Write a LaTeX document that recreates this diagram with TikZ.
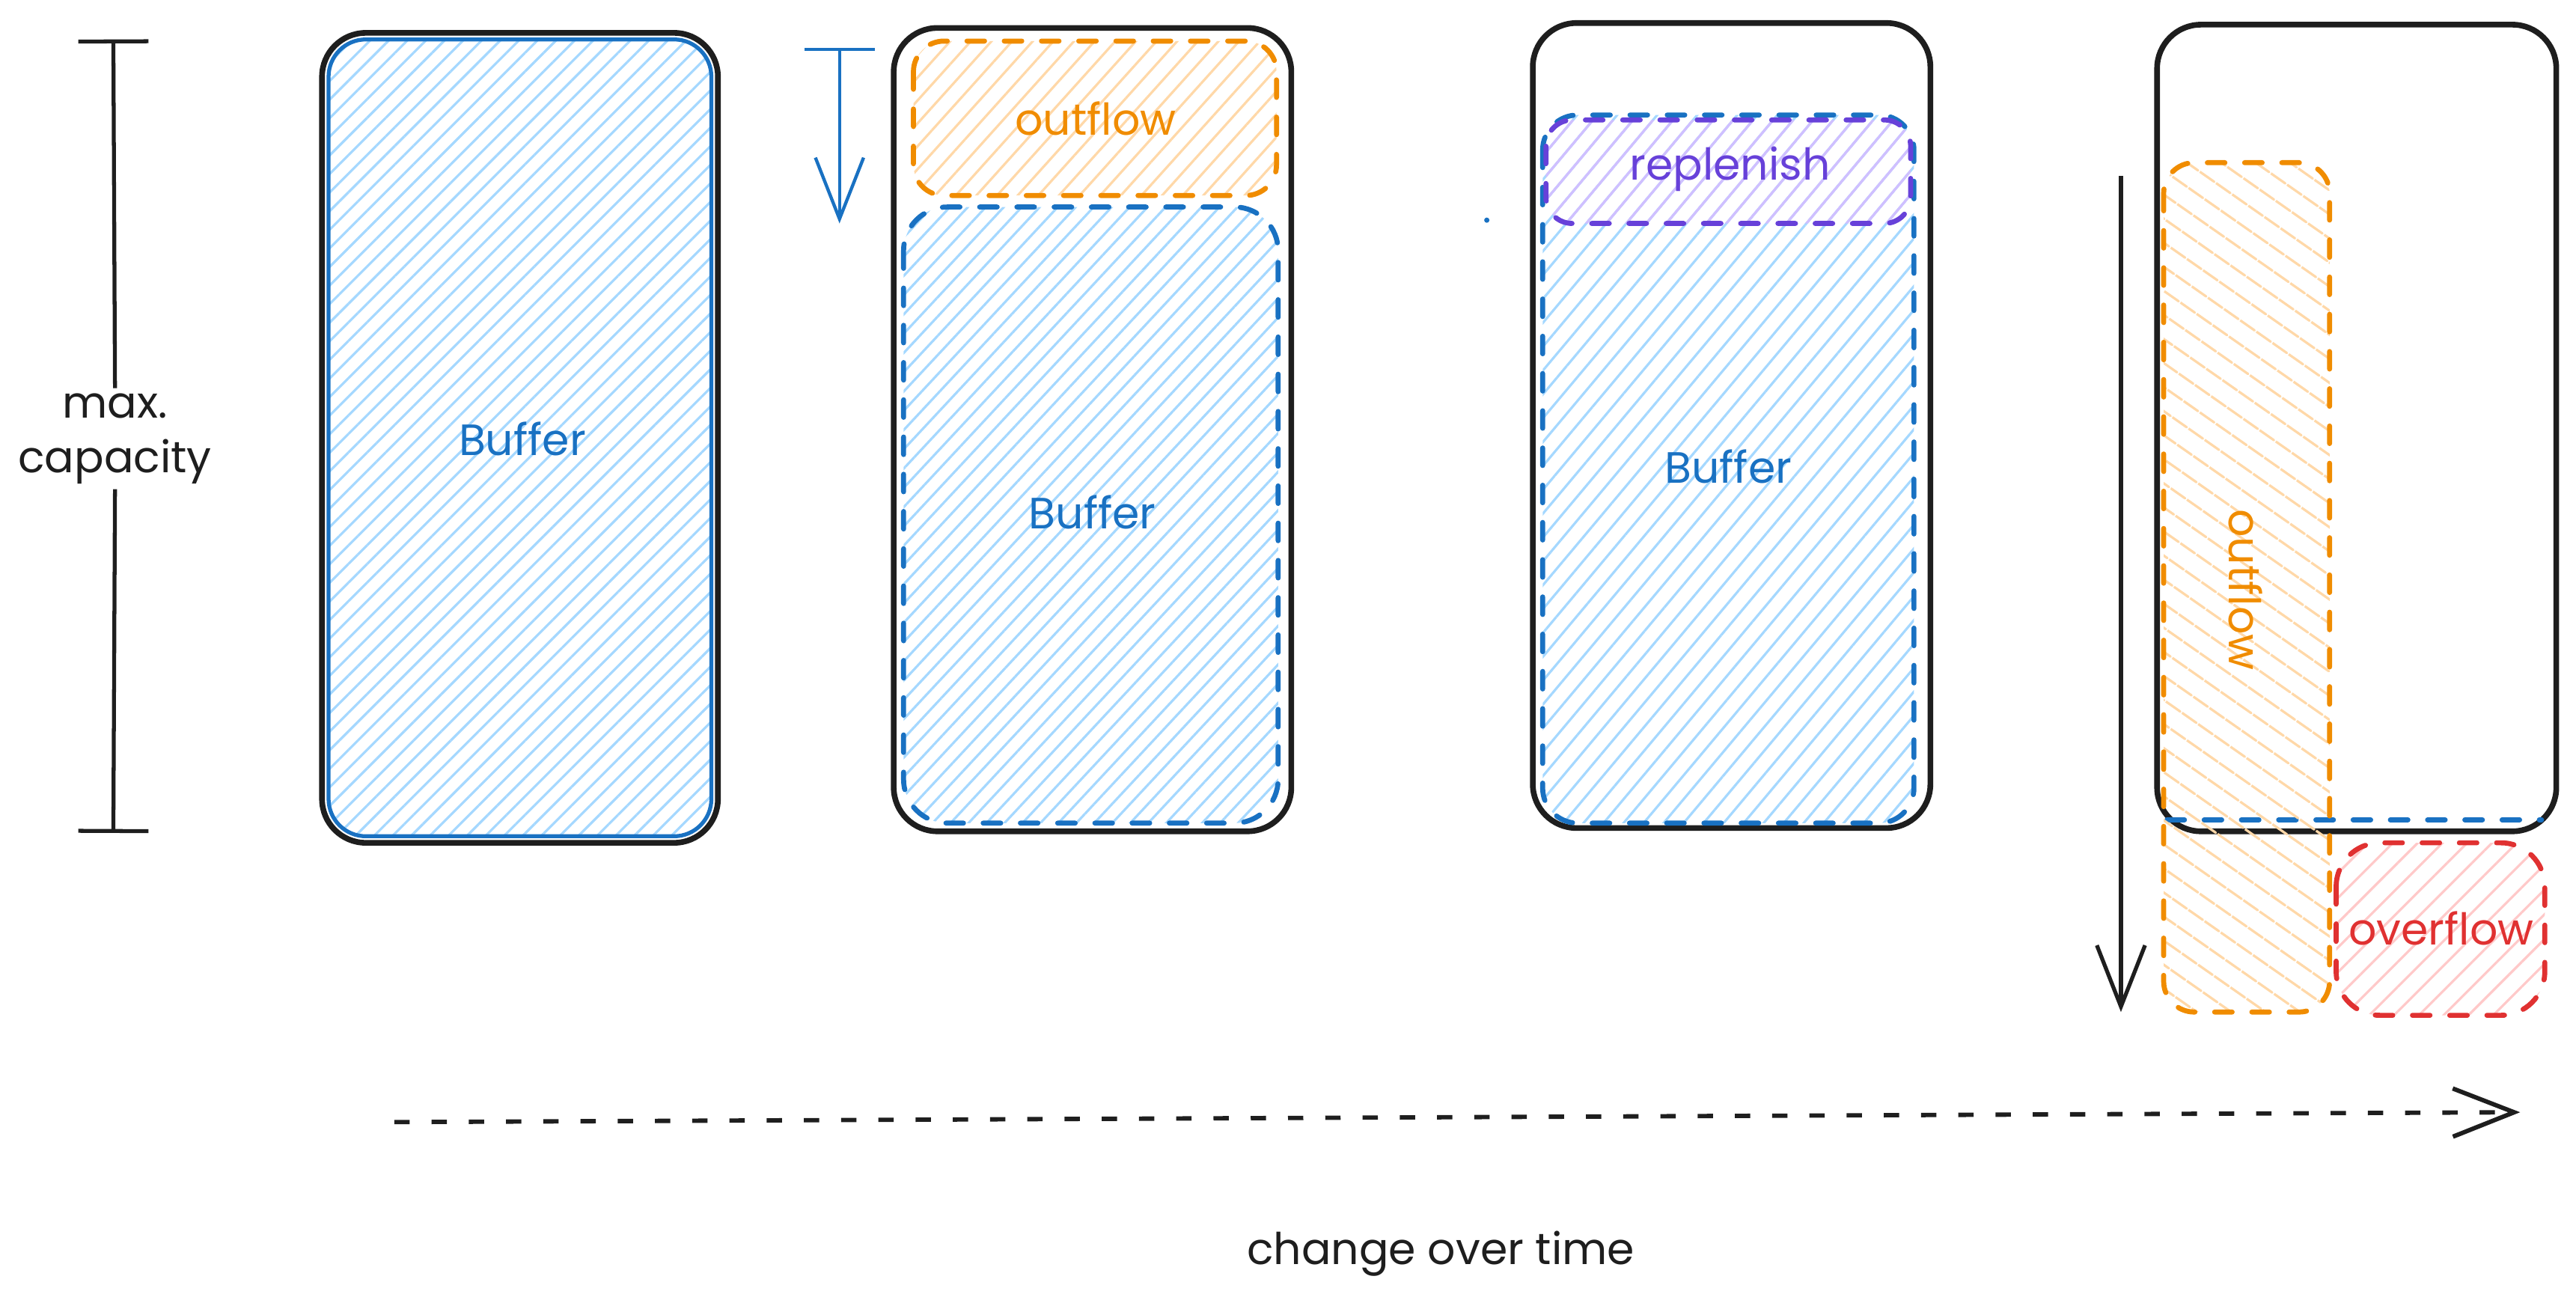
\documentclass[tikz,border=0pt]{standalone}
\usepackage{fontspec}
\setmainfont{Poppins}
\usetikzlibrary{arrows.meta,patterns.meta}

\definecolor{inkblack}{HTML}{1E1E1E}
\definecolor{bufblue}{HTML}{1971C2}
\definecolor{bufhatch}{HTML}{A5D8FF}
\definecolor{outorange}{HTML}{F08C00}
\definecolor{outhatch}{HTML}{FFD8A8}
\definecolor{repviolet}{HTML}{6741D9}
\definecolor{rephatch}{HTML}{D0BFFF}
\definecolor{ovred}{HTML}{E03131}
\definecolor{ovhatch}{HTML}{FFC9C9}

\tikzset{every picture/.style={line width=0.75pt}}
\tikzset{
	tank/.style={draw=inkblack, line width=2.6pt, rounded corners=20pt},
	dashbox/.style={line width=2.3pt, line cap=round, dash pattern=on 8pt off 9pt},
	hatch/.style args={#1/#2/#3}{pattern={Lines[angle=#1,distance=#2,line width=1.1pt]}, pattern color=#3},
	txt/.style={font=\fontsize{20}{25}\selectfont, inner sep=2pt},
	barb/.style={-{Straight Barb[length=28pt,width=22pt]}}
}

\begin{document}
\begin{tikzpicture}[x=0.75pt,y=0.75pt,yscale=-1,xscale=1]
	\path[use as bounding box] (0,0) rectangle (1568,793);

	% max. capacity
	\coordinate (capTop) at (69,24);
	\coordinate (capBot) at (69,507);
	\node[txt, text=inkblack, align=center] (capLbl) at (70,267) {max.\\capacity};
	\draw[inkblack, line width=1.8pt, {Bar[width=32pt]}-] (capTop) -- (capLbl.north);
	\draw[inkblack, line width=1.8pt, -{Bar[width=32pt]}] (capLbl.south) -- (capBot);

	%Shape: Rounded Rectangle (full)
	\draw[tank] (196,20) rectangle (437,513);
	\draw[draw=bufblue, line width=1.8pt, rounded corners=17pt, hatch=45/6pt/bufhatch] (200,24) rectangle (433,509);
	% Text Node
	\node[txt, text=bufblue] (bufA) at (318,267) {Buffer};

	% drain arrow
	\coordinate (drainTop) at (511,29);
	\coordinate (drainEnd) at (511,136);
	\draw[bufblue, line width=1.5pt, {Bar[width=32pt]}-{Straight Barb[length=28pt,width=22pt]}] (drainTop) -- (drainEnd);

	%Shape: Rounded Rectangle (draining)
	\draw[tank] (544,17) rectangle (786,506);
	\draw[dashbox, draw=outorange, rounded corners=14pt, hatch=48/7pt/outhatch] (556,25) rectangle (777,119);
	\draw[dashbox, draw=bufblue, rounded corners=20pt, hatch=47/6pt/bufhatch] (550,126) rectangle (778,501);
	% Text Node
	\node[txt, text=outorange] (outA) at (667,72) {outflow};
	% Text Node
	\node[txt, text=bufblue] (bufB) at (665,312) {Buffer};

	% stray dot
	\fill[bufblue] (905,134) circle (1.6);

	%Shape: Rounded Rectangle (refilling)
	\draw[tank] (933,14) rectangle (1175,504);
	\draw[dashbox, draw=bufblue, rounded corners=16pt, hatch=50/7pt/bufhatch] (939,70) rectangle (1165,501);
	\draw[dashbox, draw=repviolet, rounded corners=12pt, hatch=50/7pt/rephatch] (941,73) rectangle (1163,136);
	% Text Node
	\node[txt, text=repviolet] (repA) at (1053,103) {replenish};
	% Text Node
	\node[txt, text=bufblue] (bufC) at (1052,284) {Buffer};

	% spill arrow
	\coordinate (spillTop) at (1291,107);
	\coordinate (spillEnd) at (1291,616);
	\draw[inkblack, line width=1.8pt, barb] (spillTop) -- (spillEnd);

	%Shape: Rounded Rectangle (overflowing)
	\draw[tank] (1313,15) rectangle (1556,506);
	\coordinate (emptyL) at (1319,499);
	\coordinate (emptyR) at (1547,499);
	\draw[dashbox, draw=bufblue] (emptyL) -- (emptyR);
	\draw[dashbox, draw=outorange, rounded corners=14pt, hatch=-35/9pt/outhatch] (1317,99) rectangle (1418,616);
	\draw[dashbox, draw=ovred, rounded corners=20pt, hatch=45/8pt/ovhatch] (1422,513) rectangle (1549,618);
	% Text Node
	\node[txt, text=outorange, rotate=-90] (outB) at (1367,359) {outflow};
	% Text Node
	\node[txt, text=ovred] (ovA) at (1486,565) {overflow};

	% time axis
	\coordinate (timeL) at (240,683);
	\coordinate (timeR) at (1534,677);
	\draw[inkblack, line width=2pt, dash pattern=on 7pt off 10pt, barb] (timeL) -- (timeR);
	% Text Node
	\node[txt, text=inkblack] (timeLbl) at (877,763) {change over time};

\end{tikzpicture}
\end{document}
